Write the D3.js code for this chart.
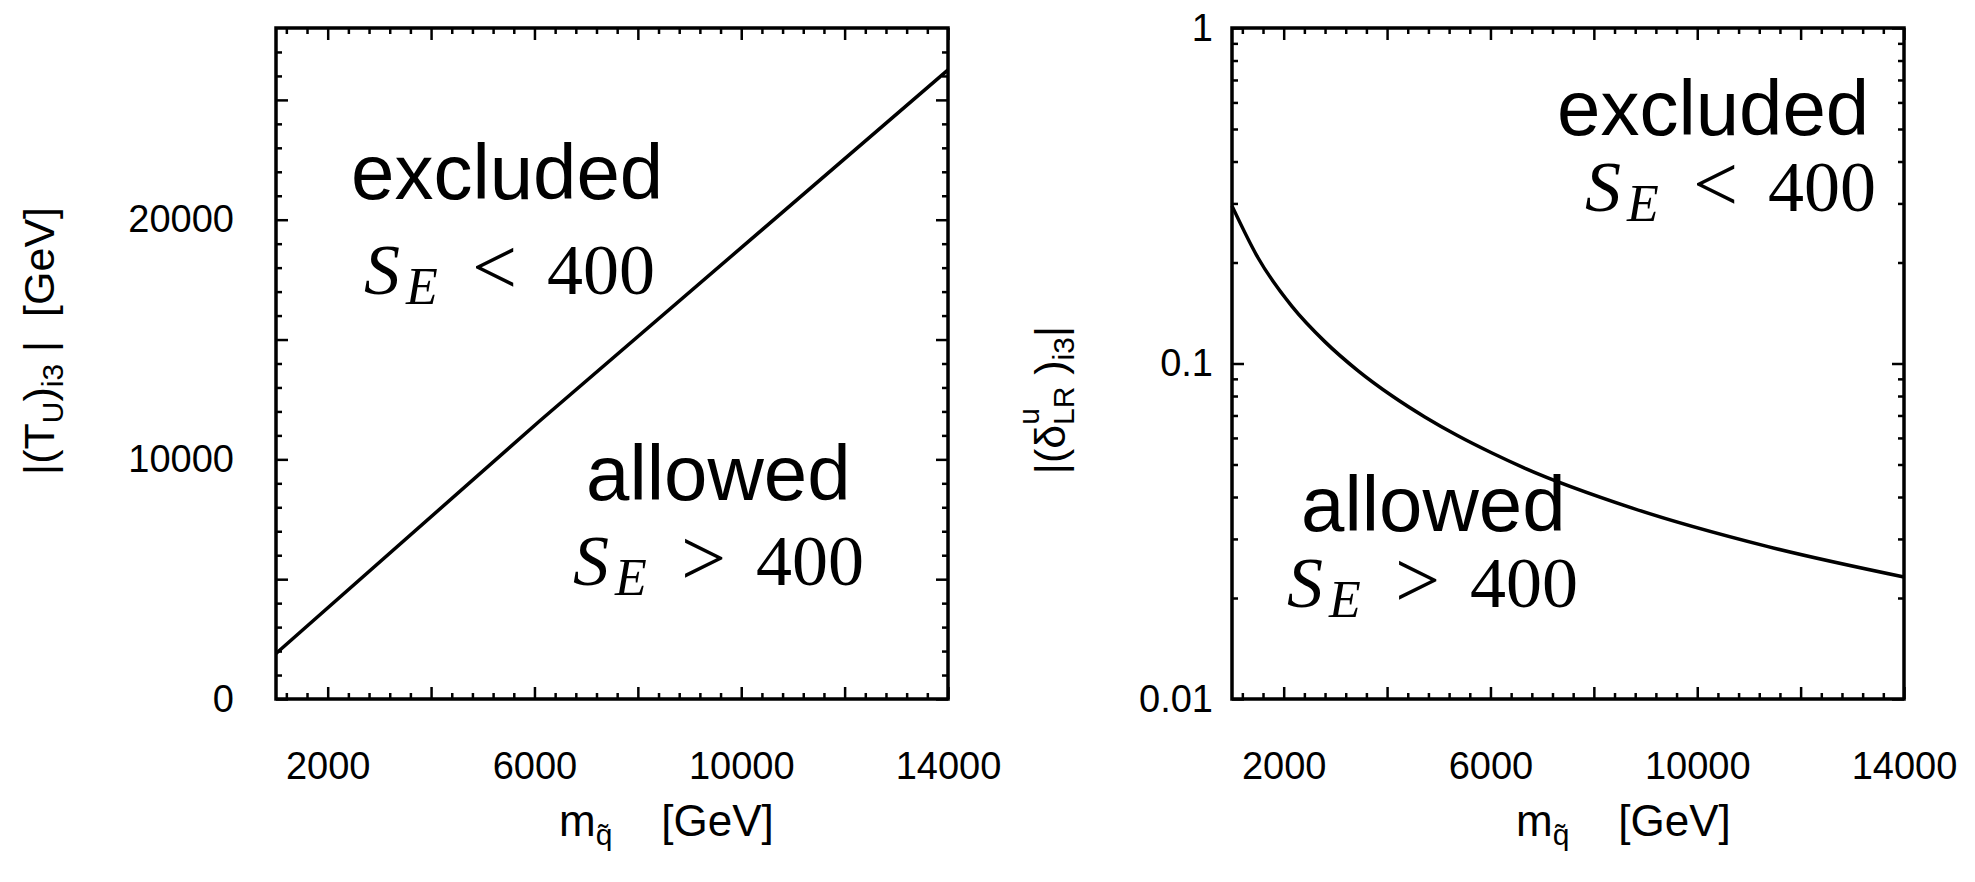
<!DOCTYPE html>
<html>
<head>
<meta charset="utf-8">
<script src="https://cdn.jsdelivr.net/npm/d3@7"></script>
<style>
  body { margin: 0; background: #fff; }
  svg { display: block; }
  text { font-family: "Liberation Sans", Arial, Helvetica, sans-serif; fill: #000; }
  .math { font-family: "Liberation Serif", "Times New Roman", serif; }
</style>
</head>
<body>
<svg id="chart" width="1975" height="882"></svg>
<script>
// squark mass axis (GeV), shared by both panels
var massRange = [1000, 14000];
var xMajorTicks = [2000, 4000, 6000, 8000, 10000, 12000, 14000];
var xTickLabels = [2000, 6000, 10000, 14000];

// left panel: bound on |(T_U)_i3| in GeV
var tMass = [1000, 6100, 14000];
var tBound = [1900, 11600, 26250];
var tRange = [0, 28000];
var tMajorTicks = [0, 5000, 10000, 15000, 20000, 25000];
var tTickLabels = [0, 10000, 20000];

// right panel: bound on |(delta^u_LR)_i3|
var dMass = [1000, 1500, 2160, 2800, 3440, 4100, 4730, 5370, 6030, 6670, 8760, 11350, 14000];
var dBound = [0.295, 0.207, 0.148, 0.116, 0.0951, 0.0800, 0.0693, 0.0609, 0.0541, 0.0487, 0.0370, 0.0285, 0.0231];
var dRange = [0.01, 1];
var dTickLabels = [0.01, 0.1, 1];

var svg = d3.select("#chart");
var W = 672, H = 671, TOP = 28;
var MAJOR = 12, MINOR = 6;

// minor ticks every 400 GeV between the majors
var xMinorTicks = d3.range(1200, 14000, 400).filter(d => d % 2000 !== 0);

function styleAxis(sel, size){
	sel.select(".domain").remove();
	sel.selectAll(".tick line").attr("stroke", "#000").attr("stroke-width", 2.5);
	sel.attr("font-size", size).attr("font-family", "Liberation Sans, Arial, sans-serif");
	sel.selectAll(".tick text").attr("fill", "#000");
}

function drawTicks(g, x, y, yMajor, yMinor, yLabels, yPad){
	var xLab = d => xTickLabels.includes(d) ? String(d) : "";
	var yLab = d => yLabels.includes(d) ? String(d) : "";

	// bottom + top
	g.append("g").attr("transform", "translate(0," + H + ")")
		.call(d3.axisBottom(x).tickValues(xMajorTicks).tickSize(-MAJOR).tickPadding(53).tickFormat(xLab))
		.call(styleAxis, 38);
	g.append("g").attr("transform", "translate(0," + H + ")")
		.call(d3.axisBottom(x).tickValues(xMinorTicks).tickSize(-MINOR).tickFormat(""))
		.call(styleAxis, 38);
	g.append("g")
		.call(d3.axisTop(x).tickValues(xMajorTicks).tickSize(-MAJOR).tickFormat(""))
		.call(styleAxis, 38);
	g.append("g")
		.call(d3.axisTop(x).tickValues(xMinorTicks).tickSize(-MINOR).tickFormat(""))
		.call(styleAxis, 38);

	// left + right
	g.append("g")
		.call(d3.axisLeft(y).tickValues(yMajor).tickSize(-MAJOR).tickPadding(yPad).tickFormat(yLab))
		.call(styleAxis, 38);
	g.append("g")
		.call(d3.axisLeft(y).tickValues(yMinor).tickSize(-MINOR).tickFormat(""))
		.call(styleAxis, 38);
	g.append("g").attr("transform", "translate(" + W + ",0)")
		.call(d3.axisRight(y).tickValues(yMajor).tickSize(-MAJOR).tickFormat(""))
		.call(styleAxis, 38);
	g.append("g").attr("transform", "translate(" + W + ",0)")
		.call(d3.axisRight(y).tickValues(yMinor).tickSize(-MINOR).tickFormat(""))
		.call(styleAxis, 38);
}

function word(g, txt, x, y){
	g.append("text").attr("x", x).attr("y", y).attr("font-size", 78).text(txt);
}

// S_E < 400 style label
function mathIneq(g, op, x, y){
	var t = g.append("text").attr("class", "math").attr("y", y);
	t.append("tspan").attr("x", x).attr("font-style", "italic").attr("font-size", 72).text("S");
	t.append("tspan").attr("x", x + 42).attr("dy", 10).attr("font-style", "italic").attr("font-size", 52).text("E");
	t.append("tspan").attr("x", x + 108).attr("dy", -10).attr("font-size", 80).text(op);
	t.append("tspan").attr("x", x + 183).attr("font-size", 72).text("400");
}

function xTitle(x0){
	var t = svg.append("text").attr("x", x0).attr("y", 836).attr("font-size", 44).style("white-space", "pre");
	t.append("tspan").text("m");
	t.append("tspan").attr("font-size", 30).attr("dy", 9).text("q\u0303");
	t.append("tspan").attr("dy", -9).text("    [GeV]");
}

// ---------- left panel ----------
var gL = svg.append("g").attr("transform", "translate(276," + TOP + ")");
var xL = d3.scaleLinear().domain(massRange).range([0, W]);
var yL = d3.scaleLinear().domain(tRange).range([H, 0]);
var tMinor = d3.range(1000, 28000, 1000).filter(d => d % 5000 !== 0);

drawTicks(gL, xL, yL, tMajorTicks, tMinor, tTickLabels, 42);

gL.append("path")
	.datum(d3.zip(tMass, tBound))
	.attr("fill", "none").attr("stroke", "#000").attr("stroke-width", 3.5)
	.attr("d", d3.line().x(d => xL(d[0])).y(d => yL(d[1])));

gL.append("rect").attr("width", W).attr("height", H)
	.attr("fill", "none").attr("stroke", "#000").attr("stroke-width", 3.5);

word(gL, "excluded", 75, 171);
mathIneq(gL, "<", 88, 266);
word(gL, "allowed", 310, 472);
mathIneq(gL, ">", 297, 557);

var ytL = svg.append("text").attr("transform", "translate(54,341) rotate(-90)")
	.attr("text-anchor", "middle").attr("font-size", 43).style("white-space", "pre");
ytL.append("tspan").text("|(T");
ytL.append("tspan").attr("font-size", 30).attr("dy", 9).text("U");
ytL.append("tspan").attr("dy", -9).text(")");
ytL.append("tspan").attr("font-size", 30).attr("dy", 9).text("i3");
ytL.append("tspan").attr("dy", -9).text(" |  [GeV]");

xTitle(559);

// ---------- right panel ----------
var gR = svg.append("g").attr("transform", "translate(1232," + TOP + ")");
var xR = d3.scaleLinear().domain(massRange).range([0, W]);
var yR = d3.scaleLog().domain(dRange).range([H, 0]);
var dMinor = [];
[0.01, 0.1].forEach(dec => { for (var k = 2; k <= 9; k++) dMinor.push(+(k * dec).toPrecision(2)); });

drawTicks(gR, xR, yR, dTickLabels, dMinor, dTickLabels, 19);

gR.append("path")
	.datum(d3.zip(dMass, dBound))
	.attr("fill", "none").attr("stroke", "#000").attr("stroke-width", 3.5)
	.attr("d", d3.line().curve(d3.curveMonotoneX).x(d => xR(d[0])).y(d => yR(d[1])));

gR.append("rect").attr("width", W).attr("height", H)
	.attr("fill", "none").attr("stroke", "#000").attr("stroke-width", 3.5);

word(gR, "excluded", 325, 107);
mathIneq(gR, "<", 353, 183);
word(gR, "allowed", 69, 503);
mathIneq(gR, ">", 55, 579);

var ytR = svg.append("text").attr("transform", "translate(1065,400) rotate(-90)")
	.attr("text-anchor", "middle").attr("font-size", 43).style("white-space", "pre");
ytR.append("tspan").text("|(δ");
ytR.append("tspan").attr("font-size", 30).attr("dy", -26).text("u");
ytR.append("tspan").attr("font-size", 30).attr("dx", -17).attr("dy", 35).text("LR");
ytR.append("tspan").attr("dy", -9).text(" )");
ytR.append("tspan").attr("font-size", 30).attr("dy", 9).text("i3");
ytR.append("tspan").attr("dy", -9).text("|");

xTitle(1516);
</script>
</body>
</html>
